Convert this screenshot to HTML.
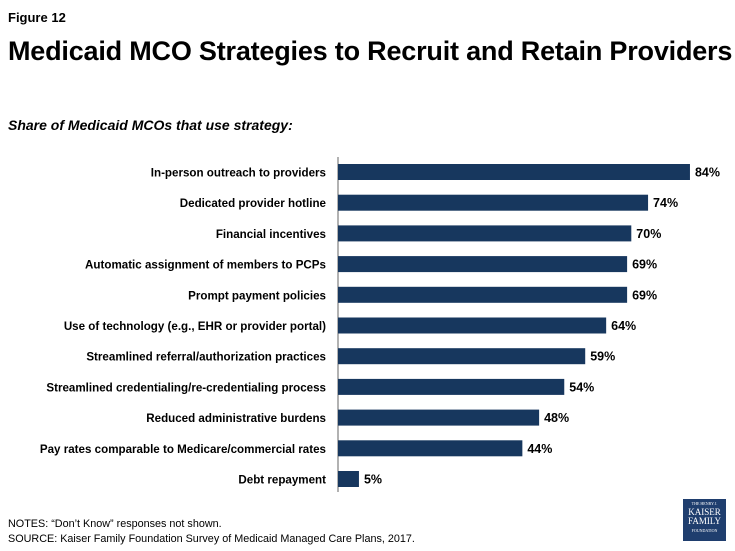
<!DOCTYPE html>
<html><head><meta charset="utf-8"><style>
body{margin:0;width:735px;height:551px;background:#fff;font-family:"Liberation Sans",Calibri,sans-serif;position:relative;overflow:hidden}
.t{position:absolute;color:#000;white-space:nowrap}
</style></head><body>
<div class="t" style="left:8px;top:10px;font-size:13px;font-weight:bold">Figure 12</div>
<div class="t" style="left:8px;top:36px;font-size:27px;font-weight:bold;letter-spacing:-0.2px">Medicaid MCO Strategies to Recruit and Retain Providers</div>
<div class="t" style="left:8px;top:117px;font-size:14px;font-weight:bold;font-style:italic">Share of Medicaid MCOs that use strategy:</div>
<svg id="chart" width="735" height="551" style="position:absolute;left:0;top:0"></svg>
<div class="t" style="left:8px;top:518px;font-size:10.8px">NOTES: “Don’t Know” responses not shown.</div>
<div class="t" style="left:8px;top:533px;font-size:10.8px">SOURCE: Kaiser Family Foundation Survey of Medicaid Managed Care Plans, 2017.</div>
<div style="position:absolute;left:683px;top:499px;width:43px;height:42px;background:#1f3e6e;color:#fff;font-family:'Liberation Serif',serif;text-align:center;line-height:1">
<div style="font-size:4px;margin-top:3px">THE HENRY J.</div>
<div style="font-size:9px;margin-top:2px">KAISER</div>
<div style="font-size:9px">FAMILY</div>
<div style="font-size:4px;margin-top:3px">FOUNDATION</div>
</div>
<script>
const categories=["In-person outreach to providers","Dedicated provider hotline","Financial incentives","Automatic assignment of members to PCPs","Prompt payment policies","Use of technology (e.g., EHR or provider portal)","Streamlined referral/authorization practices","Streamlined credentialing/re-credentialing process","Reduced administrative burdens","Pay rates comparable to Medicare/commercial rates","Debt repayment"];
const values=[84,74,70,69,69,64,59,54,48,44,5];
const svg=document.getElementById('chart');
const NS='http://www.w3.org/2000/svg';
const x0=338, pxPer=4.19, y0=172, step=30.7, bh=16;
const xs=v=>x0+v*pxPer;
const ys=i=>y0+i*step;
const axis=document.createElementNS(NS,'line');
axis.setAttribute('x1',x0);axis.setAttribute('x2',x0);axis.setAttribute('y1',157);axis.setAttribute('y2',492);
axis.setAttribute('stroke','#999');axis.setAttribute('stroke-width','1.5');


svg.appendChild(axis);
categories.forEach((c,i)=>{
  const r=document.createElementNS(NS,'rect');
  r.setAttribute('x',x0);r.setAttribute('y',ys(i)-bh/2);r.setAttribute('width',xs(values[i])-x0);r.setAttribute('height',bh);r.setAttribute('fill','#17375e');
  
  
  svg.appendChild(r);
  const l=document.createElementNS(NS,'text');
  l.setAttribute('x',326);l.setAttribute('y',ys(i)+4.5);l.setAttribute('text-anchor','end');l.setAttribute('font-size','11.6');l.setAttribute('font-weight','bold');l.setAttribute('font-family','Liberation Sans, sans-serif');
  l.textContent=c;
  
  
  svg.appendChild(l);
  const v=document.createElementNS(NS,'text');
  v.setAttribute('x',xs(values[i])+5);v.setAttribute('y',ys(i)+4.5);v.setAttribute('font-size','12.5');v.setAttribute('font-weight','bold');v.setAttribute('font-family','Liberation Sans, sans-serif');
  v.textContent=values[i]+'%';
  
  
  svg.appendChild(v);
});
</script>
</body></html>
